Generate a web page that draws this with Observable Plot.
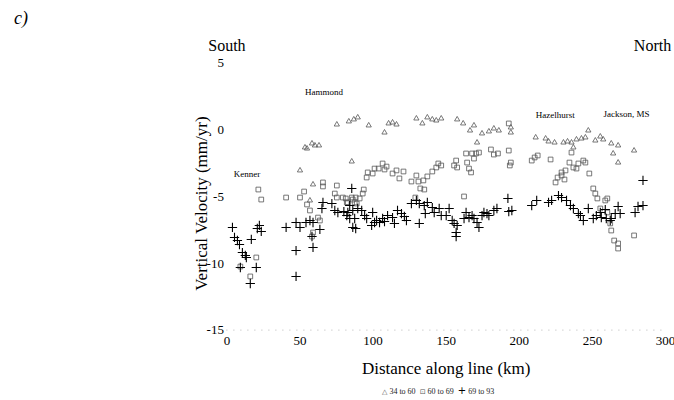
<!DOCTYPE html>
<html>
<head>
<meta charset="utf-8">
<script src="https://cdn.jsdelivr.net/npm/d3@7"></script>
<script src="https://cdn.jsdelivr.net/npm/@observablehq/plot@0.6"></script>
<style>
  body { margin: 0; background: #fff; font-family: "Liberation Serif", "Times New Roman", serif; }
  #chart svg { display: block; }
  #legend { height: 18px; line-height: 18px; font-size: 8px; padding-left: 382px; white-space: pre; color: #222; }
  #legend .sym { font-family: "DejaVu Sans", sans-serif; font-size: 7px; color: #555; }
  #legend .plus { font-family: "DejaVu Sans", sans-serif; font-size: 10px; color: #000; }
</style>
</head>
<body>
<div id="chart"></div>
<div id="legend"></div>
<script>
// ---- tick values and labels ----
const xTicks = [0, 50, 100, 150, 200, 250, 300];
const yTicks = [5, 0, -5, -10, -15];
const xLabel = "Distance along line (km)";
const yLabel = "Vertical Velocity (mm/yr)";
const bandLabels = ["34 to 60", "60 to 69", "69 to 93"];

// ---- place names: [name, km, mm/yr] ----
const places = [
  ["Kenner", 13.8, -3.34],
  ["Hammond", 66.4, 2.82],
  ["Hazelhurst", 224.6, 1.07],
  ["Jackson, MS", 273.3, 1.2]
];

// ---- series: [km, mm/yr] ----
const band34to60 = [
  [50.0,-3.04],[58.9,-4.09],[56.8,-5.29],[53.4,-1.32],[54.8,-1.40],[58.2,-1.02],[60.2,-1.17],[63.0,-1.17],
  [75.2,0.40],[83.4,0.63],[86.8,0.78],[89.5,0.93],[97.0,0.33],[107.8,-0.20],[110.6,0.48],[113.3,0.55],
  [116.0,0.40],[129.6,0.85],[133.7,0.48],[137.1,0.93],[140.5,0.78],[143.2,0.70],[146.6,0.85],[157.5,0.78],
  [85.4,-2.37],[161.6,0.48],[166.3,-0.05],[169.0,0.33],[174.5,-0.27],[171.1,-0.95],[179.2,-0.12],[182.6,0.10],
  [186.0,-0.05],[194.2,0.18],[194.2,-0.20],[211.2,-0.57],[218.0,-0.65],[220.0,-0.87],[224.1,-0.95],
  [230.2,-0.95],[233.0,-0.87],[235.7,-0.95],[237.0,-1.32],[239.1,-0.72],[242.5,-0.65],[245.2,-0.57],
  [247.2,-0.05],[252.0,-0.80],[255.4,-0.50],[257.4,-0.72],[262.9,-1.02],[267.6,-1.17],[264.2,-1.77],
  [267.6,-2.45],[278.5,-1.55]
];

const band60to69 = [
  [21.5,-4.47],[23.5,-5.22],[9.2,-10.24],[20.1,-9.56],[16.0,-10.98],
  [40.5,-5.07],[50.0,-5.07],[52.8,-4.62],[65.7,-3.94],[65.7,-4.24],[75.2,-4.17],[73.8,-4.77],[75.2,-5.07],
  [54.8,-5.59],[56.8,-6.04],[62.3,-6.57],[63.6,-6.79],[58.9,-7.69],[58.2,-7.99],
  [81.3,-5.14],[79.3,-5.07],[82.0,-5.44],[86.1,-5.22],[88.8,-5.52],
  [96.3,-3.19],[95.6,-3.57],[99.7,-3.27],[101.0,-2.90],[103.8,-2.90],[106.5,-2.52],[107.8,-2.97],[109.2,-2.75],
  [113.3,-3.27],[116.0,-3.04],[118.0,-3.64],[120.8,-3.12],[126.2,-3.87],[129.6,-3.42],[131.0,-3.87],[134.4,-3.79],
  [137.1,-3.49],[140.5,-3.12],[143.2,-2.82],[144.6,-2.52],[146.6,-2.67],[156.8,-2.30],[155.4,-2.67],[157.5,-2.82],
  [132.3,-4.39],[135.0,-4.47],[93.6,-4.47],[85.4,-5.07],[88.1,-5.07],[90.8,-5.14],[82.7,-5.44],[87.4,-5.44],
  [128.9,-5.07],[92.9,-4.77],
  [163.6,-1.77],[164.3,-2.45],[167.7,-1.77],[170.4,-1.77],[172.4,-1.70],[169.0,-2.15],[165.6,-2.90],[167.0,-3.19],
  [180.6,-1.47],[182.6,-1.85],[185.4,-1.77],[192.8,-1.55],[194.2,-2.45],[193.5,-2.67],[208.5,-2.30],[210.5,-2.07],
  [212.6,-1.92],[221.4,-2.22],[228.9,-3.19],[226.2,-3.57],[224.8,-3.94],[230.9,-3.72],[162.2,-4.99],[192.8,0.48],
  [235.7,-1.70],[234.3,-2.45],[237.0,-2.82],[239.1,-2.90],[240.4,-2.52],[243.8,-2.30],[245.2,-2.45],[247.9,-3.27],
  [231.6,-3.04],[228.9,-3.42],[250.6,-4.39],[252.0,-4.77],[253.4,-5.14],[258.8,-5.29],[260.2,-5.14],
  [262.2,-7.01],[262.9,-7.54],[264.9,-8.29],[267.6,-8.51],[267.6,-8.89],[278.5,-7.91],[255.4,-5.89],[260.2,-6.19]
];

const band69to93 = [
  [3.8,-7.31],[5.2,-8.06],[7.2,-8.29],[8.6,-8.59],[10.6,-9.19],[12.6,-9.41],[13.3,-9.56],[16.7,-8.21],
  [22.2,-7.16],[23.5,-7.61],[20.8,-7.39],[9.2,-10.31],[20.1,-10.31],[16.0,-11.51],
  [40.5,-7.31],[47.3,-6.94],[50.0,-7.31],[54.1,-6.94],[56.8,-6.79],[58.9,-6.94],[63.6,-7.46],[58.2,-7.99],
  [58.9,-8.81],[47.3,-9.04],[47.3,-10.98],[65.7,-5.44],[65.0,-5.89],[71.8,-5.52],[73.8,-6.04],[75.9,-6.19],
  [80.0,-6.12],[82.0,-6.42],[85.4,-4.39],[86.1,-7.31],[88.1,-7.39],[84.0,-5.67],[82.7,-6.19],[86.1,-6.04],
  [89.5,-5.89],[92.2,-6.04],[84.0,-6.64],[87.4,-6.64],[94.2,-6.42],[95.6,-6.64],[99.7,-6.19],[101.0,-6.94],
  [102.4,-6.79],[104.4,-6.94],[106.5,-6.64],[107.8,-6.87],[109.9,-6.42],[113.3,-6.57],[114.6,-7.01],[116.7,-6.04],
  [119.4,-6.27],[121.4,-6.49],[122.8,-6.79],[99.0,-7.16],[131.6,-7.01],[126.2,-5.52],[129.6,-5.29],[131.6,-5.52],
  [135.0,-5.67],[137.1,-5.44],[140.5,-5.82],[141.8,-6.19],[145.2,-5.89],[146.6,-6.42],[135.7,-6.27],[150.0,-6.42],
  [154.1,-6.79],[157.5,-7.16],[156.8,-7.69],[156.8,-7.99],[152.0,-5.89],[155.4,-7.01],[162.2,-6.64],[163.6,-6.19],
  [165.6,-6.57],[167.7,-6.42],[169.0,-6.64],[171.1,-6.94],[172.4,-7.31],[174.5,-6.42],[175.8,-6.19],[177.9,-6.27],
  [179.2,-6.42],[182.6,-6.04],[184.7,-5.89],[192.2,-5.14],[192.8,-6.12],[194.9,-6.04],[208.5,-5.67],[211.9,-5.29],
  [220.0,-5.44],[222.1,-5.29],[226.8,-4.92],[228.9,-5.07],[232.3,-5.29],[235.0,-5.67],[237.0,-5.89],[240.4,-6.27],
  [241.8,-6.42],[243.8,-6.79],[247.2,-5.89],[250.6,-6.64],[252.7,-6.42],[255.4,-6.19],[256.1,-6.57],[258.8,-5.97],
  [259.5,-6.64],[262.2,-6.79],[262.9,-6.64],[265.6,-6.27],[267.6,-5.74],[269.0,-6.27],[279.2,-6.19],[281.2,-5.74],
  [284.6,-5.67],[284.6,-3.79]
];

const rows = (arr) => arr.map(([km, v]) => ({km, v}));
const placeRows = places.map(([name, km, v]) => ({name, km, v}));

const centered = {textAnchor: "middle", lineAnchor: "middle", fill: "#000"};

const chart = Plot.plot({
  width: 674,
  height: 382,
  marginLeft: 226.4,
  marginRight: 9,
  marginTop: 62.6,
  marginBottom: 52.4,
  style: {fontFamily: "'Liberation Serif', 'Times New Roman', serif", fontSize: "13px", background: "#fff", color: "#000"},
  x: {domain: [0, 300], ticks: xTicks, tickSize: 0, tickPadding: 6, tickFormat: (d) => String(d), label: null},
  y: {domain: [-15, 5], ticks: yTicks, tickSize: 0, tickPadding: 3, tickFormat: (d) => String(d), label: null},
  marks: [
    Plot.ruleY([-15], {stroke: "#999", strokeDasharray: "1 6", strokeOpacity: 0.7}),
    Plot.dot(rows(band34to60), {x: "km", y: "v", symbol: "triangle2", r: 2.5, fill: "none", stroke: "#555", strokeWidth: 0.8}),
    Plot.dot(rows(band60to69), {x: "km", y: "v", symbol: "square2", r: 3, fill: "none", stroke: "#555", strokeWidth: 0.8}),
    Plot.dot(rows(band69to93), {x: "km", y: "v", symbol: "plus", r: 3.1, fill: "none", stroke: "#000", strokeWidth: 1.1}),
    Plot.text(placeRows, {x: "km", y: "v", text: "name", fontSize: 9, ...centered}),
    Plot.text([yLabel], {frameAnchor: "left", rotate: -90, dx: -25, dy: 7, fontSize: 17, ...centered}),
    Plot.text([xLabel], {frameAnchor: "bottom", dy: 38, fontSize: 17, ...centered}),
    Plot.text(["South"], {frameAnchor: "top-left", dy: -17.6, fontSize: 16, ...centered}),
    Plot.text(["North"], {frameAnchor: "top-right", dx: -13, dy: -17.6, fontSize: 16, ...centered}),
    Plot.text(["c)"], {frameAnchor: "top-left", dx: -206, dy: -45, fontSize: 18, fontStyle: "italic", ...centered})
  ]
});
document.getElementById("chart").appendChild(chart);

// legend below the chart
const legend = document.getElementById("legend");
const syms = [["sym", "\u25B3"], ["sym", "\u22A1"], ["plus", "+"]];
syms.forEach(([cls, ch], i) => {
  const s = document.createElement("span");
  s.className = cls;
  s.textContent = ch;
  legend.appendChild(s);
  legend.appendChild(document.createTextNode(" " + bandLabels[i] + (i < 2 ? "  " : "")));
});
</script>
</body>
</html>
